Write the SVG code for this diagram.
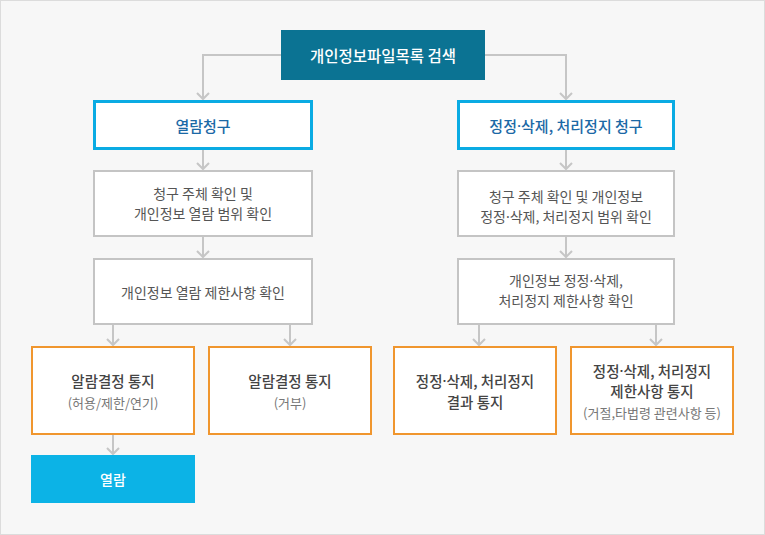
<svg xmlns="http://www.w3.org/2000/svg" width="765" height="535" viewBox="0 0 765 535">
<style>
text{font-family:"Noto Sans CJK KR","Noto Sans",sans-serif;text-anchor:middle;dominant-baseline:central;font-size:14px}
.d{font-family:"Noto Sans",sans-serif}
.top{fill:#fff;font-weight:500;font-size:15.5px}
.gray rect{fill:#fff;stroke:#c4c4c4;stroke-width:2}
.gray text{fill:#555}
.blue rect{fill:#fff;stroke:#0aabe3;stroke-width:3}
.blue text{fill:#1b69a6;font-weight:500;font-size:15px}
.orange rect{fill:#fff;stroke:#f0962e;stroke-width:2}
.orange .t{fill:#444;font-weight:500;font-size:14.5px}
.orange .s{fill:#777;font-size:13px}
.conn path{fill:none;stroke:#c6c6c6;stroke-width:2}
</style>
<defs>
<marker id="arr" markerUnits="userSpaceOnUse" viewBox="-8 -8 10 16" markerWidth="10" markerHeight="16" refX="0" refY="0" orient="auto">
<path d="M-6,-6 L0,0 L-6,6" fill="none" stroke="#c6c6c6" stroke-width="2"/>
</marker>
</defs>
<rect x="0.5" y="0.5" width="764" height="534" fill="#f7f7f7" stroke="#dcdcdc" stroke-width="1"/>
<g class="conn">
<path d="M281 55 H203 V99" marker-end="url(#arr)"/>
<path d="M485 55 H566 V99" marker-end="url(#arr)"/>
<path d="M203 150 V169" marker-end="url(#arr)"/>
<path d="M203 237 V257" marker-end="url(#arr)"/>
<path d="M113 325 V345" marker-end="url(#arr)"/>
<path d="M290 325 V345" marker-end="url(#arr)"/>
<path d="M113 435 V454" marker-end="url(#arr)"/>
<path d="M566 150 V169" marker-end="url(#arr)"/>
<path d="M566 237 V257" marker-end="url(#arr)"/>
<path d="M479 325 V345" marker-end="url(#arr)"/>
<path d="M656 325 V345" marker-end="url(#arr)"/>
</g>
<g id="search">
<rect x="281" y="30" width="204" height="50" fill="#0b7393"/>
<text class="top" x="383" y="55">개인정보파일목록 검색</text>
</g>
<g id="req-view" class="blue">
<rect x="94.5" y="101.5" width="217" height="47"/>
<text x="203" y="125">열람청구</text>
</g>
<g id="req-fix" class="blue">
<rect x="458.5" y="101.5" width="215" height="47"/>
<text x="566" y="125">정정<tspan class="d">·</tspan>삭제, 처리정지 청구</text>
</g>
<g id="check-view" class="gray">
<rect x="94" y="171" width="218" height="65"/>
<text x="203" y="193">청구 주체 확인 및</text>
<text x="203" y="213">개인정보 열람 범위 확인</text>
</g>
<g id="limit-view" class="gray">
<rect x="94" y="259" width="218" height="65"/>
<text x="203" y="291.5">개인정보 열람 제한사항 확인</text>
</g>
<g id="check-fix" class="gray">
<rect x="458" y="171" width="216" height="65"/>
<text x="566" y="196">청구 주체 확인 및 개인정보</text>
<text x="566" y="216">정정<tspan class="d">·</tspan>삭제, 처리정지 범위 확인</text>
</g>
<g id="limit-fix" class="gray">
<rect x="458" y="259" width="216" height="65"/>
<text x="566" y="280">개인정보 정정<tspan class="d">·</tspan>삭제,</text>
<text x="566" y="300">처리정지 제한사항 확인</text>
</g>
<g id="notice-allow" class="orange">
<rect x="32" y="347" width="162" height="87"/>
<text class="t" x="113" y="380">알람결정 통지</text>
<text class="s" x="113" y="402">(허용/제한/연기)</text>
</g>
<g id="notice-deny" class="orange">
<rect x="209" y="347" width="162" height="87"/>
<text class="t" x="290" y="380">알람결정 통지</text>
<text class="s" x="290" y="402">(거부)</text>
</g>
<g id="notice-result" class="orange">
<rect x="394" y="347" width="162" height="87"/>
<text class="t" x="475" y="380">정정<tspan class="d">·</tspan>삭제, 처리정지</text>
<text class="t" x="475" y="401">결과 통지</text>
</g>
<g id="notice-limit" class="orange">
<rect x="571" y="347" width="162" height="87"/>
<text class="t" x="652" y="370">정정<tspan class="d">·</tspan>삭제, 처리정지</text>
<text class="t" x="652" y="390">제한사항 통지</text>
<text class="s" x="652" y="412">(거절,타법령 관련사항 등)</text>
</g>
<g id="view">
<rect x="31" y="455" width="164" height="48" fill="#0cb3e6"/>
<text class="top" x="113" y="479" style="font-size:14px">열람</text>
</g>
</svg>
